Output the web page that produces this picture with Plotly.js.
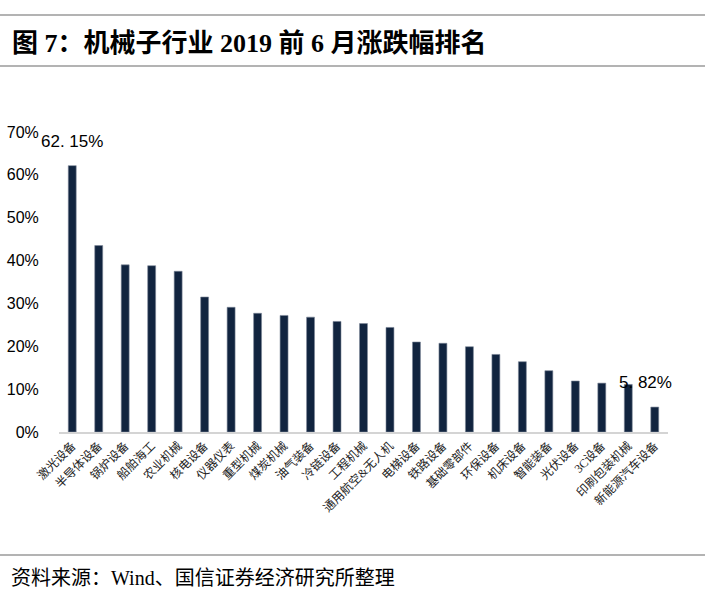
<!DOCTYPE html>
<html>
<head>
<meta charset="utf-8">
<script src="https://cdn.plot.ly/plotly-3.0.1.min.js"></script>
<style>html,body{margin:0;padding:0;background:#fff;}#chart{width:705px;height:606px;}</style>
</head>
<body>
<div id="chart"></div>
<script>
const categories = ["激光设备","半导体设备","锅炉设备","船舶海工","农业机械","核电设备","仪器仪表","重型机械","煤炭机械","油气装备","冷链设备","工程机械","通用航空&无人机","电梯设备","铁路设备","基础零部件","环保设备","机床设备","智能装备","光伏设备","3C设备","印刷包装机械","新能源汽车设备"];
const values = [62.15,43.5,39.0,38.8,37.5,31.5,29.1,27.7,27.2,26.8,25.8,25.3,24.4,21.0,20.7,19.9,18.1,16.4,14.3,11.9,11.4,11.1,5.82];
const yTicks = [0,10,20,30,40,50,60,70];
const labelled = [{i:0, text:"62. 15%", xs:0}, {i:22, text:"5. 82%", xs:-9}];

const W = 705, H = 606;
const L = 59, R = 37, T = 132, B = 174;
const pw = W - L - R, ph = H - T - B;
const px = v => (v - L) / pw;
const py = v => (H - B - v) / ph;

const trace = {
  type: 'bar',
  x: categories,
  y: values,
  marker: {color: '#11243f', line: {color: '#7d8899', width: 0.6}},
  hoverinfo: 'x+y'
};

const annotations = labelled.map(a => ({
  x: categories[a.i], y: values[a.i], xref: 'x', yref: 'y',
  text: a.text, showarrow: false, yanchor: 'bottom', yshift: 13, xshift: a.xs,
  font: {family: 'Liberation Sans, Arial, sans-serif', size: 17, color: '#000'}
}));
annotations.push({
  xref: 'paper', yref: 'paper', x: px(9), y: py(578), xanchor: 'left', yanchor: 'middle',
  text: '资料来源：Wind、国信证券经济研究所整理', showarrow: false,
  font: {family: 'Liberation Serif, Noto Sans CJK SC, serif', size: 20, color: '#000'}
});

const hl = (yy, c) => ({type: 'line', xref: 'paper', yref: 'paper', x0: px(0), x1: px(W), y0: py(yy), y1: py(yy), line: {color: c, width: 1.5}});

const layout = {
  width: W, height: H,
  margin: {l: L, r: R, t: T, b: B, pad: 0},
  paper_bgcolor: '#fff', plot_bgcolor: '#fff',
  showlegend: false,
  bargap: 0.7,
  title: {
    text: '<b>图 7：机械子行业 2019 前 6 月涨跌幅排名</b>',
    xref: 'container', yref: 'container', x: 12 / W, xanchor: 'left', y: 1 - 43 / H, yanchor: 'middle',
    font: {family: 'Liberation Serif, Noto Sans CJK SC, serif', size: 26, color: '#000'}
  },
  xaxis: {
    type: 'category', range: [-0.5, categories.length - 0.5], tickangle: -45, showgrid: false, zeroline: false,
    showline: true, linecolor: '#d4d4d4', linewidth: 2,
    ticks: '', tickfont: {family: 'Liberation Serif, Noto Sans CJK SC, serif', size: 12, color: '#222'},
    automargin: false
  },
  yaxis: {
    range: [0, 70], tickvals: yTicks, ticktext: yTicks.map(v => v + '%'),
    showgrid: false, zeroline: false, showline: false,
    ticks: 'outside', ticklen: 16, tickcolor: 'rgba(0,0,0,0)',
    tickfont: {family: 'Liberation Sans, Arial, sans-serif', size: 16, color: '#000'},
    automargin: false
  },
  annotations: annotations,
  shapes: [hl(15, '#9a9a9a'), hl(66, '#9a9a9a'), hl(555, '#9a9a9a')]
};

Plotly.newPlot('chart', [trace], layout, {displayModeBar: false, staticPlot: true});
</script>
</body>
</html>
